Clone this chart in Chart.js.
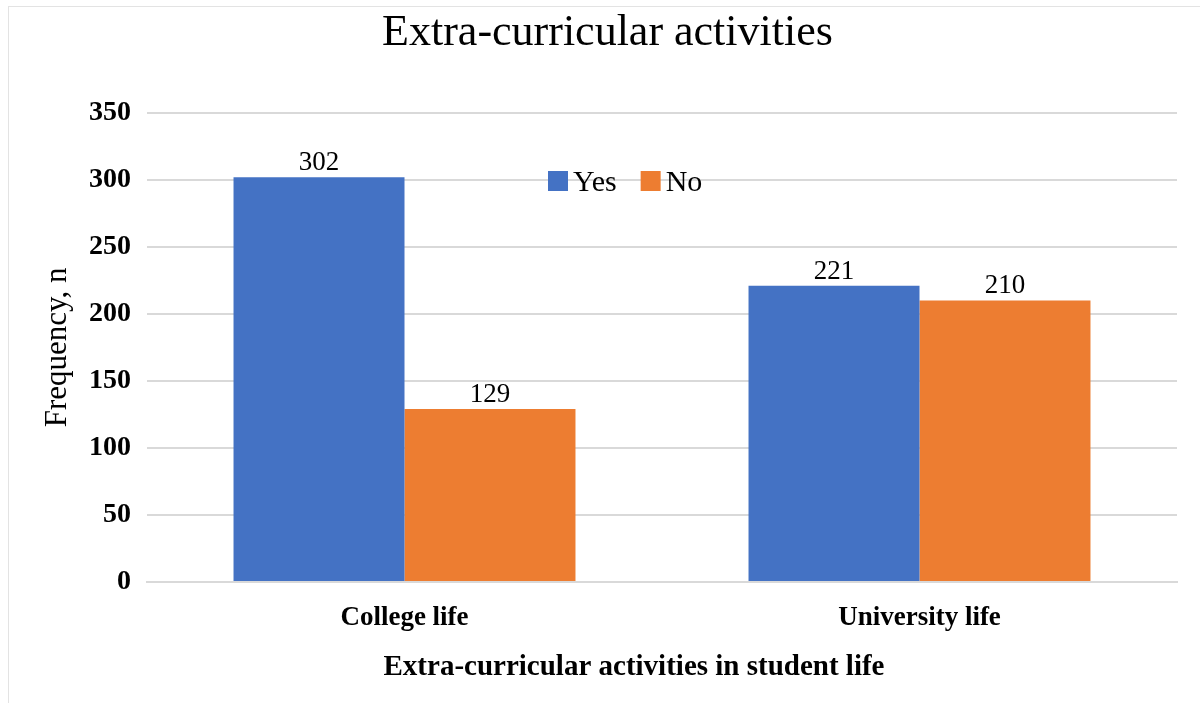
<!DOCTYPE html>
<html lang="en">
  <head>
    <meta charset="utf-8" />
    <title>Extra-curricular activities</title>
    <script src="https://cdn.jsdelivr.net/npm/chart.js"></script>
    <style>
      body {
        margin: 0;
        background: #ffffff;
      }
      #wrap {
        position: relative;
        width: 1200px;
        height: 703px;
      }
      #frame {
        position: absolute;
        left: 8px;
        top: 6px;
        right: -5px;
        bottom: -5px;
        border-left: 1px solid #e3e3e3;
        border-top: 1px solid #e3e3e3;
      }
      #chart {
        position: absolute;
        left: 0;
        top: 0;
      }
    </style>
  </head>
  <body>
    <div id="wrap">
      <div id="frame"></div>
      <canvas id="chart" width="1200" height="703"></canvas>
    </div>

    <script>
      const categories = ["College life", "University life"];
      const yesValues = [302, 221];
      const noValues = [129, 210];
      const yTicks = [0, 50, 100, 150, 200, 250, 300, 350];

      const serif = "'Liberation Serif', 'Times New Roman', serif";
      const blue = "#4472C4";
      const orange = "#ED7D31";

      // value labels over each bar, legend inside the plot, x axis caption
      const extras = {
        id: "extras",
        afterDatasetsDraw(chart) {
          const ctx = chart.ctx;
          ctx.save();
          ctx.fillStyle = "#000";
          ctx.font = "27px " + serif;
          ctx.textAlign = "center";
          ctx.textBaseline = "alphabetic";
          chart.data.datasets.forEach((ds, i) => {
            chart.getDatasetMeta(i).data.forEach((bar, j) => {
              ctx.fillText(ds.data[j], bar.x, bar.y - 7);
            });
          });
          ctx.restore();
        },
        afterDraw(chart) {
          const ctx = chart.ctx;
          ctx.save();

          // legend
          ctx.font = "30px " + serif;
          ctx.textBaseline = "middle";
          ctx.textAlign = "left";
          let lx = 548;
          const ly = 181;
          chart.data.datasets.forEach((ds) => {
            ctx.fillStyle = ds.backgroundColor;
            ctx.fillRect(lx, ly - 10, 20, 20);
            ctx.fillStyle = "#000";
            ctx.fillText(ds.label, lx + 25, ly + 2);
            lx += 25 + ctx.measureText(ds.label).width + 24;
          });

          // x axis caption
          ctx.font = "bold 29px " + serif;
          ctx.textAlign = "center";
          ctx.fillText("Extra-curricular activities in student life", 634, 668);
          ctx.restore();
        },
      };

      new Chart(document.getElementById("chart"), {
        type: "bar",
        data: {
          labels: categories,
          datasets: [
            { label: "Yes", data: yesValues, backgroundColor: blue },
            { label: "No", data: noValues, backgroundColor: orange },
          ],
        },
        options: {
          responsive: false,
          animation: false,
          devicePixelRatio: 1,
          layout: { padding: { left: 38, right: 23, top: 0, bottom: 14 } },
          datasets: {
            bar: { categoryPercentage: 0.664, barPercentage: 1 },
          },
          plugins: {
            legend: { display: false },
            tooltip: { enabled: false },
            title: {
              display: true,
              text: "Extra-curricular activities",
              color: "#000",
              font: { family: serif, size: 44, weight: "normal" },
              padding: { top: 7, bottom: 53 },
            },
          },
          scales: {
            x: {
              grid: { display: false },
              border: { color: "#d9d9d9", width: 2 },
              ticks: {
                color: "#000",
                padding: 12,
                font: { family: serif, size: 27, weight: "bold" },
              },
              afterFit(scale) {
                scale.height = 107;
              },
            },
            y: {
              min: 0,
              max: 350,
              afterBuildTicks(scale) {
                scale.ticks = yTicks.map((v) => ({ value: v }));
              },
              grid: { color: "#d9d9d9", lineWidth: 2, drawTicks: false },
              border: { display: false },
              ticks: {
                color: "#000",
                padding: 16,
                font: { family: serif, size: 28, weight: "bold" },
              },
              title: {
                display: true,
                text: "Frequency, n",
                color: "#000",
                font: { family: serif, size: 31, weight: "normal" },
                padding: { top: 1, bottom: 0 },
              },
              afterFit(scale) {
                scale.width = 109;
              },
            },
          },
        },
        plugins: [extras],
      });
    </script>
  </body>
</html>
